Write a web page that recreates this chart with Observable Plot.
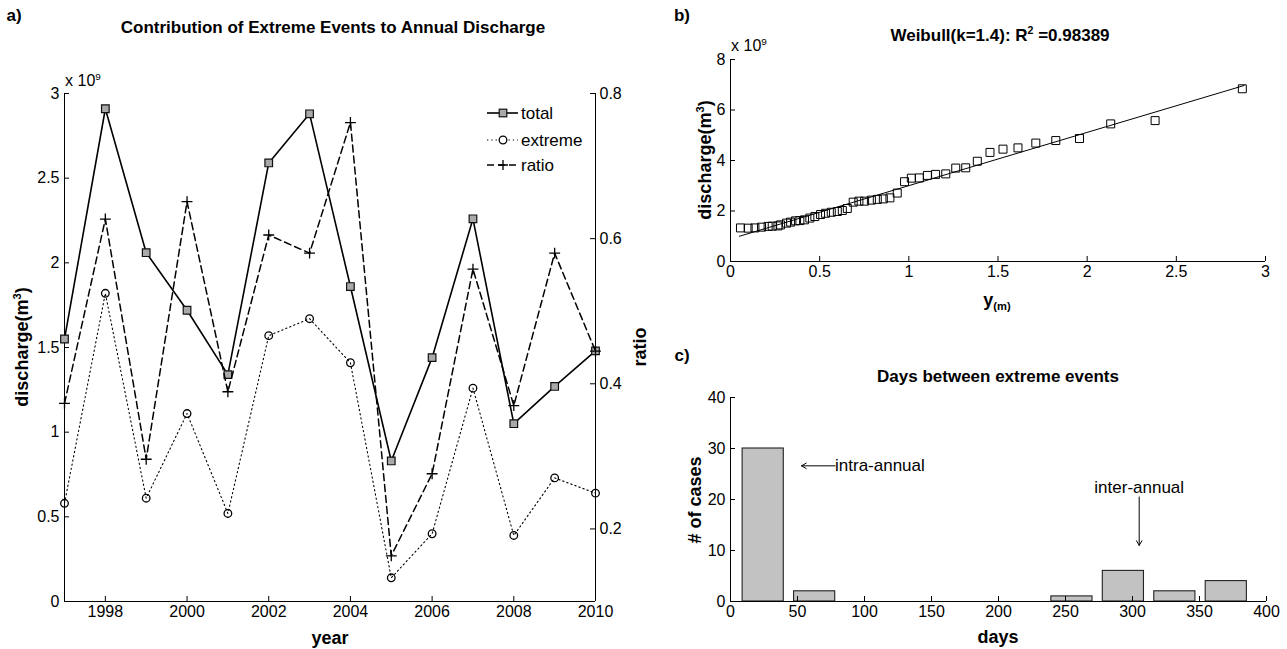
<!DOCTYPE html>
<html><head><meta charset="utf-8">
<script src="https://cdn.jsdelivr.net/npm/d3@7"></script>
<script src="https://cdn.jsdelivr.net/npm/@observablehq/plot@0.6"></script>
<style>
body{margin:0;background:#fff;}
#fig{position:relative;width:1287px;height:649px;overflow:hidden;font-family:"Liberation Sans",Arial,sans-serif;color:#000;background:#fff;}
#fig svg{position:absolute;}
.lbl{position:absolute;white-space:nowrap;line-height:1;}
.lbl sup{font-size:0.62em;vertical-align:0.6em;line-height:0;}
.lbl sub{font-size:0.62em;vertical-align:-0.35em;line-height:0;}
</style></head><body><div id="fig"></div>
<script>
// ---------- data ----------
const years = [1997,1998,1999,2000,2001,2002,2003,2004,2005,2006,2007,2008,2009,2010];
const totalDischarge   = [1.55,2.91,2.06,1.72,1.34,2.59,2.88,1.86,0.83,1.44,2.26,1.05,1.27,1.48]; // x10^9 m3
const extremeDischarge = [0.58,1.82,0.61,1.11,0.52,1.57,1.67,1.41,0.14,0.40,1.26,0.39,0.73,0.64]; // x10^9 m3
const extremeRatio     = [0.373,0.627,0.296,0.651,0.389,0.605,0.580,0.760,0.163,0.276,0.558,0.370,0.580,0.445];
const yearTicks = [1998,2000,2002,2004,2006,2008,2010];
const dischargeTicksA = [0,0.5,1,1.5,2,2.5,3];
const ratioTicks = [0.2,0.4,0.6,0.8];

const weibullY = [0.056,0.099,0.137,0.174,0.211,0.234,0.266,0.281,0.314,0.337,0.365,0.389,0.415,0.445,0.473,0.505,0.533,0.565,0.599,0.627,0.655,0.688,0.72,0.752,0.79,0.823,0.857,0.894,0.935,0.976,1.014,1.059,1.104,1.150,1.207,1.263,1.319,1.384,1.455,1.528,1.612,1.712,1.824,1.957,2.132,2.381,2.87];
const eventDischarge = [1.33,1.32,1.33,1.36,1.39,1.40,1.41,1.45,1.52,1.56,1.61,1.62,1.65,1.72,1.78,1.86,1.91,1.95,1.98,2.02,2.10,2.35,2.39,2.39,2.43,2.46,2.48,2.52,2.71,3.16,3.30,3.31,3.41,3.45,3.47,3.70,3.71,3.97,4.32,4.45,4.50,4.69,4.79,4.87,5.45,5.58,6.84];
const fitY = [0.05, 2.88];
const fitDischarge = [1.0, 6.97];
const ymTicks = [0,0.5,1,1.5,2,2.5,3];
const dischargeTicksB = [0,2,4,6,8];

const binCenters = [24.4,62.8,101.2,139.6,178.0,216.4,254.8,293.2,331.6,370.0];
const caseCounts = [30,2,0,0,0,0,1,6,2,4];
const dayTicks = [0,50,100,150,200,250,300,350,400];
const caseTicks = [0,10,20,30,40];
const noteTexts = ["intra-annual","inter-annual"];
const noteDays = [78,305];
const noteCounts = [26.6,22.4];
const arrowDay1 = [78,305], arrowCount1 = [26.6,20.5];
const arrowDay2 = [53,305], arrowCount2 = [26.6,11];

// ---------- helpers ----------
const fig = document.getElementById("fig");
const font = '"Liberation Sans", Arial, sans-serif';
const baseStyle = {fontFamily: font, fontSize: "16px", background: "transparent", color: "#000", overflow: "visible", maxWidth: "none"};
const fmt = d => String(d);
const TICK = 5; // inward tick length in px
function place(el, left, top){ el.style.left = left+"px"; el.style.top = top+"px"; fig.appendChild(el); }
function label(html, x, y, {size=17, bold=true, rotate=0, anchor="middle"} = {}){
  const d = document.createElement("div");
  d.className = "lbl"; d.innerHTML = html;
  d.style.left = x+"px"; d.style.top = y+"px";
  d.style.fontSize = size+"px"; d.style.fontWeight = bold ? "bold" : "normal";
  let t = anchor === "start" ? "translate(0,-50%)" : "translate(-50%,-50%)";
  if (rotate) t += ` rotate(${rotate}deg)`;
  d.style.transform = t;
  fig.appendChild(d);
}
// axes frame (left + bottom lines, inward ticks, MATLAB-like labels)
function frameMarks(xTicks, yTicks, fw, fh, xFirst, yFirst){
  return [
    Plot.ruleX([xFirst],{stroke:"#000"}), Plot.ruleY([yFirst],{stroke:"#000"}),
    Plot.tickX(xTicks,{x:d=>d, insetTop: fh-TICK, stroke:"#000"}),
    Plot.tickY(yTicks,{y:d=>d, insetRight: fw-TICK, stroke:"#000"}),
    Plot.axisX({ticks: xTicks, tickSize:0, tickPadding:4, tickFormat: fmt, label:null}),
    Plot.axisY({ticks: yTicks, tickSize:0, tickPadding:5, tickFormat: fmt, label:null})
  ];
}

// ---------- panel a ----------
const rowsA = years.map((year,i)=>({year, total: totalDischarge[i], extreme: extremeDischarge[i], ratio: extremeRatio[i]}));
const aDims = {width:660, height:649, marginLeft:64, marginRight:65, marginTop:93, marginBottom:48};
const aFW = aDims.width - aDims.marginLeft - aDims.marginRight;
const aFH = aDims.height - aDims.marginTop - aDims.marginBottom;
const plotA = Plot.plot({
  ...aDims, style: baseStyle,
  x:{domain:[1997,2010]}, y:{domain:[0,3]},
  marks:[
    ...frameMarks(yearTicks, dischargeTicksA, aFW, aFH, 1997, 0),
    Plot.ruleX([2010],{stroke:"#000"}),
    Plot.line(rowsA,{x:"year", y:"extreme", stroke:"#000", strokeWidth:1.1, strokeDasharray:"1.3,3"}),
    Plot.dot(rowsA,{x:"year", y:"extreme", r:3.8, stroke:"#000", strokeWidth:1.3, fill:"none"}),
    Plot.line(rowsA,{x:"year", y:"total", stroke:"#000", strokeWidth:1.6}),
    Plot.dot(rowsA,{x:"year", y:"total", symbol:"square", r:4.3, fill:"#a9a9a9", stroke:"#111", strokeWidth:1.2})
  ]
});
place(plotA, 0, 0);
const plotA2 = Plot.plot({
  ...aDims, style: baseStyle,
  x:{domain:[1997,2010], axis:null}, y:{domain:[0.1,0.8]},
  marks:[
    Plot.tickY(ratioTicks,{y:d=>d, insetLeft: aFW-TICK, stroke:"#000"}),
    Plot.axisY({anchor:"right", ticks: ratioTicks, tickSize:0, tickPadding:4, tickFormat: fmt, label:null}),
    Plot.line(rowsA,{x:"year", y:"ratio", stroke:"#000", strokeWidth:1.5, strokeDasharray:"7,4"}),
    Plot.dot(rowsA,{x:"year", y:"ratio", symbol:"plus", r:3.6, stroke:"#000", strokeWidth:1.3})
  ]
});
place(plotA2, 0, 0);

// legend
const leg = d3.create("svg").attr("width",130).attr("height",80).style("overflow","visible");
const legItems = [
  {name:"total", dash:null, sw:1.6},
  {name:"extreme", dash:"1.3,3", sw:1.1},
  {name:"ratio", dash:"7,4", sw:1.5}
];
legItems.forEach((it,i)=>{
  const gy = [13,40,65][i];
  const g = leg.append("g").attr("transform",`translate(0,${gy})`);
  g.append("line").attr("x1",7).attr("x2",38).attr("stroke","#000").attr("stroke-width",it.sw).attr("stroke-dasharray",it.dash);
  if (i===0) g.append("rect").attr("x",23-3.8).attr("y",-3.8).attr("width",7.6).attr("height",7.6).attr("fill","#a9a9a9").attr("stroke","#111").attr("stroke-width",1.2);
  if (i===1) g.append("circle").attr("cx",23).attr("r",3.8).attr("fill","#fff").attr("stroke","#000").attr("stroke-width",1.3);
  if (i===2) g.append("path").attr("d","M18,0H28M23,-5V5").attr("stroke","#000").attr("stroke-width",1.3);
  g.append("text").attr("x",41).attr("dy","0.35em").attr("font-family",font).attr("font-size",17).text(it.name);
});
place(leg.node(), 480, 100);

label("a)", 14, 15);
label("Contribution of Extreme Events to Annual Discharge", 333, 27);
label("x 10<sup>9</sup>", 83, 81, {bold:false, size:16});
label("discharge(m<sup>3</sup>)", 22, 347, {size:18, rotate:-90});
label("ratio", 640, 347, {size:18, rotate:-90});
label("year", 330, 638, {size:18});

// ---------- panel b ----------
const rowsB = weibullY.map((ym,i)=>({ym, q:eventDischarge[i]}));
const fitRows = fitY.map((ym,i)=>({ym, q:fitDischarge[i]}));
const bDims = {width:647, height:300, marginLeft:90, marginRight:22, marginTop:59, marginBottom:39};
const plotB = Plot.plot({
  ...bDims, style: baseStyle,
  x:{domain:[0,3]}, y:{domain:[0,8]},
  marks:[
    ...frameMarks(ymTicks, dischargeTicksB, bDims.width-bDims.marginLeft-bDims.marginRight, bDims.height-bDims.marginTop-bDims.marginBottom, 0, 0),
    Plot.line(fitRows,{x:"ym", y:"q", stroke:"#000", strokeWidth:1}),
    Plot.dot(rowsB,{x:"ym", y:"q", symbol:"square", r:4.5, stroke:"#000", strokeWidth:1, fill:"none"})
  ]
});
place(plotB, 640, 0);
label("b)", 682, 15);
label("Weibull(k=1.4): R<sup>2</sup> =0.98389", 1000, 35);
label("x 10<sup>9</sup>", 749, 46, {bold:false, size:16});
label("discharge(m<sup>3</sup>)", 705, 160, {size:18, rotate:-90});
label("y<sub>(m)</sub>", 997, 300, {size:18});

// ---------- panel c ----------
const binWidth = binCenters[1]-binCenters[0];
const rowsC = binCenters.map((c,i)=>({c, n:caseCounts[i]}));
const arrowsC = arrowDay1.map((d,i)=>({d1:d, c1:arrowCount1[i], d2:arrowDay2[i], c2:arrowCount2[i]}));
const notesC = noteTexts.map((t,i)=>({t, day:noteDays[i], count:noteCounts[i]}));
const cDims = {width:647, height:319, marginLeft:90, marginRight:21, marginTop:67, marginBottom:48};
const plotC = Plot.plot({
  ...cDims, style: baseStyle,
  x:{domain:[0,400]}, y:{domain:[0,40]},
  marks:[
    Plot.rect(rowsC,{x1: d=>d.c-0.4*binWidth, x2: d=>d.c+0.4*binWidth, y1: 0, y2:"n", fill:"#c2c2c2", stroke:"#222", strokeWidth:1.1}),
    ...frameMarks(dayTicks, caseTicks, cDims.width-cDims.marginLeft-cDims.marginRight, cDims.height-cDims.marginTop-cDims.marginBottom, 0, 0),
    Plot.arrow(arrowsC,{x1:"d1", y1:"c1", x2:"d2", y2:"c2", stroke:"#000", strokeWidth:1, headLength:8}),
    Plot.text([notesC[0]],{x:"day", y:"count", text:"t", textAnchor:"start", fontSize:17}),
    Plot.text([notesC[1]],{x:"day", y:"count", text:"t", fontSize:17})
  ]
});
place(plotC, 640, 330);
label("c)", 682, 355);
label("Days between extreme events", 998, 376);
label("# of cases", 695, 500, {size:18, rotate:-90});
label("days", 998, 637, {size:18});
</script></body></html>
